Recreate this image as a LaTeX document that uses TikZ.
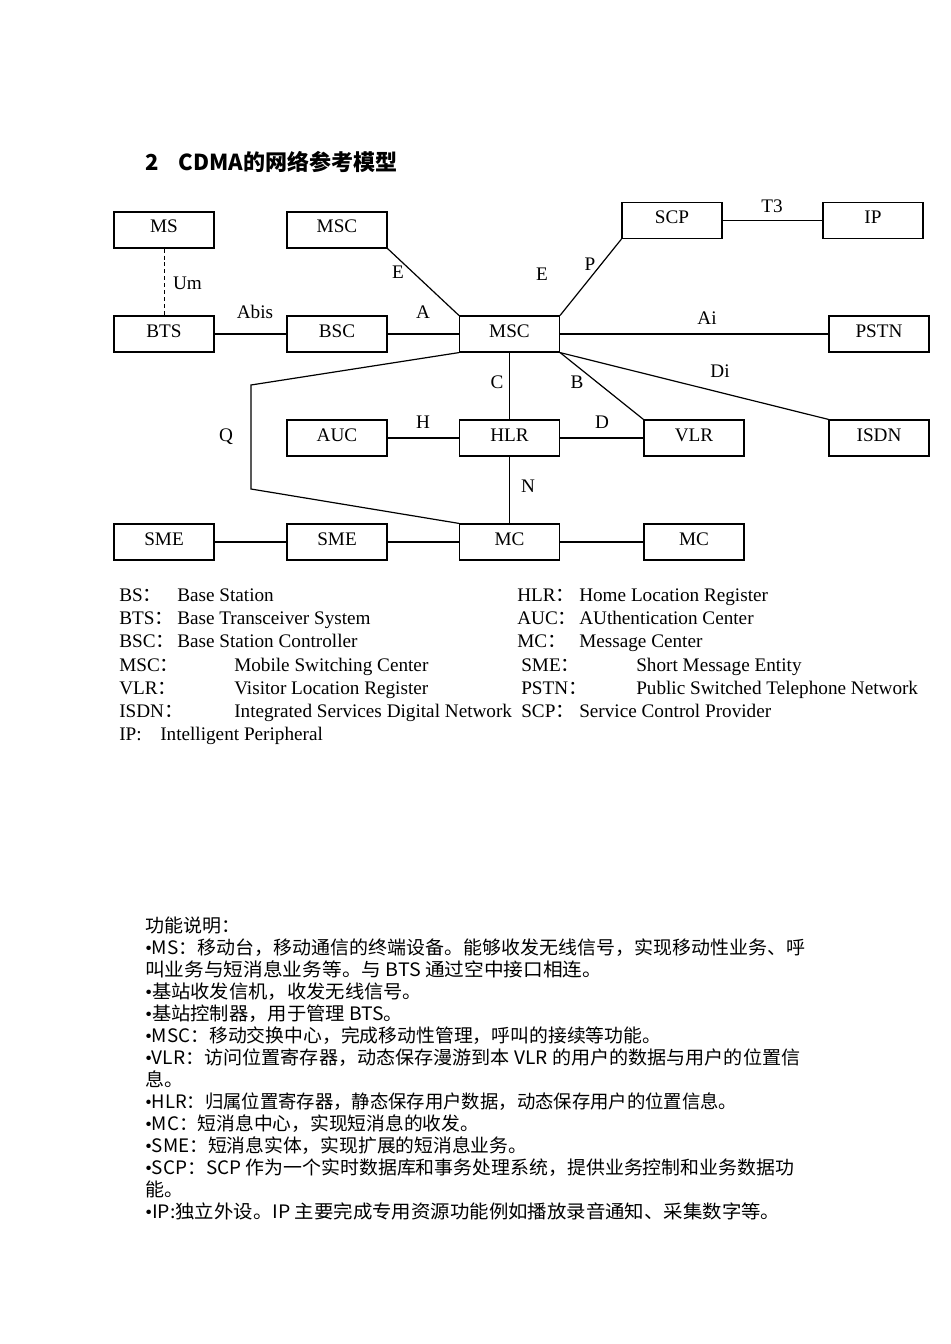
\documentclass[tikz,border=0pt]{standalone}
\usepackage{fontspec}
\setmainfont{Liberation Serif}
\newfontfamily\cjk{Noto Sans CJK SC}
\usepackage{graphicx}
\newdimen\pxu \pxu=0.75pt
\newcommand\bul{{\rmfamily •}}
\begin{document}
\begin{tikzpicture}[x=0.75pt,y=-0.75pt,
  box/.style={draw, line width=0.9pt, minimum width=75pt, minimum height=27pt, inner sep=0pt,
    font=\fontsize{14.4pt}{17pt}\selectfont, text height=9.5pt, text depth=5pt},
  wire/.style={line width=0.9pt},
  lbl/.style={anchor=base, inner sep=0pt, font=\fontsize{14.4pt}{17pt}\selectfont},
  leg/.style={anchor=base west, inner sep=0pt, font=\fontsize{14.4pt}{17pt}\selectfont},
  zh/.style={anchor=base west, inner sep=0pt, font=\cjk\fontsize{13.9pt}{16pt}\selectfont}]
\fill[white] (0,0) rectangle (950,1344);
\useasboundingbox (0,0) rectangle (950,1344);

% title
\node[anchor=base west, inner sep=0pt] (title) at (145,170.5)
  {\resizebox{252\pxu}{\height}{\cjk\bfseries\fontsize{16.5pt}{20pt}\selectfont 2\hspace{0.9em}CDMA的网络参考模型}};

% boxes
\node[box] (ms)   at (164,230)   {MS};
\node[box] (msc2) at (337,230)   {MSC};
\node[box] (scp)  at (672,220.5) {SCP};
\node[box] (ip)   at (873,220.5) {IP};
\node[box] (bts)  at (164,334)   {BTS};
\node[box] (bsc)  at (337,334)   {BSC};
\node[box] (msc)  at (509.5,334) {MSC};
\node[box] (pstn) at (879,334)   {PSTN};
\node[box] (auc)  at (337,438)   {AUC};
\node[box] (hlr)  at (509.5,438) {HLR};
\node[box] (vlr)  at (694,438)   {VLR};
\node[box] (isdn) at (879,438)   {ISDN};
\node[box] (sme1) at (164,542)   {SME};
\node[box] (sme2) at (337,542)   {SME};
\node[box] (mc)   at (509.5,542) {MC};
\node[box] (mc2)  at (694,542)   {MC};

% connectors
\draw[line width=0.7pt, dash pattern=on 3pt off 2.2pt] (ms) -- (bts);
\draw[wire] (msc2.south east) -- (msc.north west);
\draw[wire] (msc.north east) -- (scp.south west);
\draw[wire] (scp) -- (ip);
\draw[wire] (bts) -- (bsc);
\draw[wire] (bsc) -- (msc);
\draw[wire] (msc) -- (pstn);
\draw[wire] (msc) -- (hlr);
\draw[wire] (msc.south east) -- (vlr.north west);
\draw[wire] (msc.south east) -- (isdn.north west);
\draw[wire] (auc) -- (hlr);
\draw[wire] (hlr) -- (vlr);
\draw[wire] (hlr) -- (mc);
\draw[wire] (sme1) -- (sme2);
\draw[wire] (sme2) -- (mc);
\draw[wire] (mc) -- (mc2);
\coordinate (q1) at (251,385);
\coordinate (q2) at (251,489);
\draw[wire] (msc.south west) -- (q1) -- (q2) -- (mc.north west);

% connector labels
\node[lbl] (lUm)   at (187.5,290) {Um};
\node[lbl] (lE1)   at (398,279)   {E};
\node[lbl] (lAbis) at (255,318)   {Abis};
\node[lbl] (lA)    at (423,318)   {A};
\node[lbl] (lE2)   at (542,281)   {E};
\node[lbl] (lP)    at (590,271)   {P};
\node[lbl] (lT3)   at (772,213)   {T3};
\node[lbl] (lAi)   at (707,325)   {Ai};
\node[lbl] (lDi)   at (720,377)   {Di};
\node[lbl] (lC)    at (497,388)   {C};
\node[lbl] (lB)    at (577,388)   {B};
\node[lbl] (lH)    at (423,428)   {H};
\node[lbl] (lD)    at (602,428)   {D};
\node[lbl] (lQ)    at (226,441)   {Q};
\node[lbl] (lN)    at (528,492)   {N};

% legend, left column
\node[leg] (k1) at (119,601.5) {BS{\cjk ：}};
\node[leg] (v1) at (177,601.5) {Base Station};
\node[leg] (k2) at (119,624.7) {BTS{\cjk ：}};
\node[leg] (v2) at (177,624.7) {Base Transceiver System};
\node[leg] (k3) at (119,647.9) {BSC{\cjk ：}};
\node[leg] (v3) at (177,647.9) {Base Station Controller};
\node[leg] (k4) at (119,671.1) {MSC{\cjk ：}};
\node[leg] (v4) at (234,671.1) {Mobile Switching Center};
\node[leg] (k5) at (119,694.3) {VLR{\cjk ：}};
\node[leg] (v5) at (234,694.3) {Visitor Location Register};
\node[leg] (k6) at (119,717.5) {ISDN{\cjk ：}};
\node[leg] (v6) at (234,717.5) {Integrated Services Digital Network};
\node[leg] (k7) at (119,740.7) {IP:};
\node[leg] (v7) at (160,740.7) {Intelligent Peripheral};
% legend, right column
\node[leg] (k8)  at (517,601.5) {HLR{\cjk ：}};
\node[leg] (v8)  at (579,601.5) {Home Location Register};
\node[leg] (k9)  at (517,624.7) {AUC{\cjk ：}};
\node[leg] (v9)  at (579,624.7) {AUthentication Center};
\node[leg] (k10) at (517,647.9) {MC{\cjk ：}};
\node[leg] (v10) at (579,647.9) {Message Center};
\node[leg] (k11) at (521,671.1) {SME{\cjk ：}};
\node[leg] (v11) at (636,671.1) {Short Message Entity};
\node[leg] (k12) at (521,694.3) {PSTN{\cjk ：}};
\node[leg] (v12) at (636,694.3) {Public Switched Telephone Network};
\node[leg] (k13) at (521,717.5) {SCP{\cjk ：}};
\node[leg] (v13) at (579,717.5) {Service Control Provider};

% function description
\node[zh] (z1)  at (145,932)  {\resizebox{95\pxu}{\height}{功能说明：}};
\node[zh] (z2)  at (145,954)  {\resizebox{660\pxu}{\height}{\bul MS：移动台，移动通信的终端设备。能够收发无线信号，实现移动性业务、呼}};
\node[zh] (z3)  at (145,976)  {\resizebox{457\pxu}{\height}{叫业务与短消息业务等。与 BTS 通过空中接口相连。}};
\node[zh] (z4)  at (145,998)  {\resizebox{277\pxu}{\height}{\bul 基站收发信机，收发无线信号。}};
\node[zh] (z5)  at (145,1020) {\resizebox{258\pxu}{\height}{\bul 基站控制器，用于管理 BTS。}};
\node[zh] (z6)  at (145,1042) {\resizebox{516\pxu}{\height}{\bul MSC：移动交换中心，完成移动性管理，呼叫的接续等功能。}};
\node[zh] (z7)  at (145,1064) {\resizebox{655\pxu}{\height}{\bul VLR：访问位置寄存器，动态保存漫游到本 VLR 的用户的数据与用户的位置信}};
\node[zh] (z8)  at (145,1086) {\resizebox{38\pxu}{\height}{息。}};
\node[zh] (z9)  at (145,1108) {\resizebox{592\pxu}{\height}{\bul HLR：归属位置寄存器，静态保存用户数据，动态保存用户的位置信息。}};
\node[zh] (z10) at (145,1130) {\resizebox{334\pxu}{\height}{\bul MC：短消息中心，实现短消息的收发。}};
\node[zh] (z11) at (145,1152) {\resizebox{382\pxu}{\height}{\bul SME：短消息实体，实现扩展的短消息业务。}};
\node[zh] (z12) at (145,1174) {\resizebox{649\pxu}{\height}{\bul SCP：SCP 作为一个实时数据库和事务处理系统，提供业务控制和业务数据功}};
\node[zh] (z13) at (145,1196) {\resizebox{38\pxu}{\height}{能。}};
\node[zh] (z14) at (145,1218) {\resizebox{635\pxu}{\height}{\bul IP:独立外设。IP 主要完成专用资源功能例如播放录音通知、采集数字等。}};
\end{tikzpicture}
\end{document}
